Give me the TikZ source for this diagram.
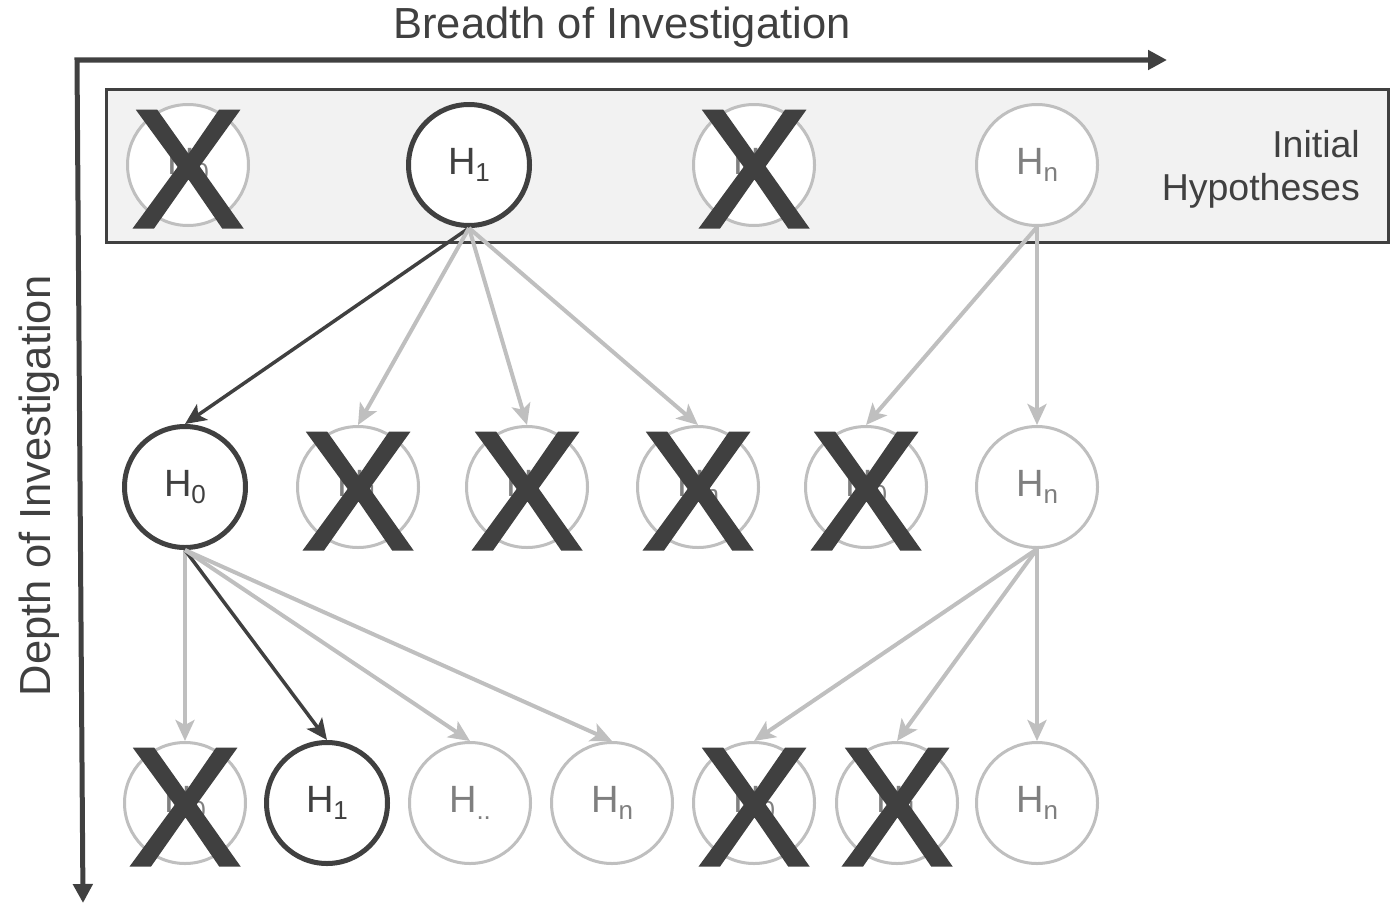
\documentclass[tikz,border=0pt]{standalone}
\usepackage{fontspec}
\setmainfont{Liberation Sans}
\newfontfamily\crossfont{Liberation Sans}[FakeBold=2]
\usetikzlibrary{arrows.meta}
\definecolor{ink}{HTML}{404040}
\definecolor{faint}{HTML}{BFBFBF}
\definecolor{faintText}{HTML}{7F7F7F}
\definecolor{panel}{HTML}{F2F2F2}
% hypothesis label: H with a lowered index
\newcommand{\hyp}[1]{H\raisebox{-7pt}{\fontsize{26}{26}\selectfont #1}}
\begin{document}
\begin{tikzpicture}[x=1pt,y=-1pt,
  hyp/.style={circle, minimum size=121pt, inner sep=0pt, draw=faint,
    line width=3pt, fill=white, text=faintText,
    font=\fontsize{38}{38}\selectfont},
  chosen/.style={hyp, draw=ink, line width=5pt, text=ink},
  cross/.style={inner sep=0pt, text=ink, text height=120pt, text depth=0pt,
    font=\crossfont\fontsize{168}{168}\selectfont},
  conn/.style={draw=faint, line width=4pt,
    -{Stealth[length=21pt,width=19pt,inset=5pt]}},
  strong/.style={conn, draw=ink, line width=3.5pt},
  axis/.style={draw=ink, line width=5pt,
    {Triangle[length=19pt,width=19pt]}-{Triangle[length=19pt,width=19pt]}},
  heading/.style={text=ink, inner sep=0pt, font=\fontsize{43.5}{43.5}\selectfont},
]
\useasboundingbox (0,0) rectangle (1396,907);

% axes
\coordinate (xend) at (1167,60);
\coordinate (corner) at (77,60);
\coordinate (yend) at (83,903);
\draw[axis] (xend) -- (corner) -- (yend);
\node[heading, anchor=base] (breadth) at (622,39) {Breadth of Investigation};
\node[heading, rotate=90, anchor=base] (depth) at (50,486) {Depth of Investigation};

% pool of initial hypotheses
\node[draw=ink, line width=3pt, fill=panel, anchor=north west,
  minimum width=1282pt, minimum height=153pt, inner sep=0pt] (pool) at (105,88) {};
\node[text=ink, align=right, anchor=north east, inner sep=0pt,
  font=\fontsize{37.5}{43}\selectfont] (poollabel) at (1360,130) {Initial\\Hypotheses};

% first level
\node[hyp] (t1) at (188,165) {\hyp{0}};
\node[chosen] (t2) at (469,165) {\hyp{1}};
\node[hyp] (t3) at (754,165) {\hyp{..}};
\node[hyp] (t4) at (1037,165) {\hyp{n}};

% second level
\node[chosen] (m1) at (185,487) {\hyp{0}};
\node[hyp] (m2) at (358,487) {\hyp{1}};
\node[hyp] (m3) at (527,487) {\hyp{..}};
\node[hyp] (m4) at (698,487) {\hyp{n}};
\node[hyp] (m5) at (866,487) {\hyp{0}};
\node[hyp] (m6) at (1037,487) {\hyp{n}};

% third level
\node[hyp] (b1) at (185,803) {\hyp{0}};
\node[chosen] (b2) at (327,803) {\hyp{1}};
\node[hyp] (b3) at (470,803) {\hyp{..}};
\node[hyp] (b4) at (612,803) {\hyp{n}};
\node[hyp] (b5) at (754,803) {\hyp{0}};
\node[hyp] (b6) at (897,803) {\hyp{1}};
\node[hyp] (b7) at (1037,803) {\hyp{n}};

% refinement arrows
\draw[strong] (t2.south) -- (m1.north);
\draw[conn] (t2.south) -- (m2.north);
\draw[conn] (t2.south) -- (m3.north);
\draw[conn] (t2.south) -- (m4.north);
\draw[conn] (t4.south) -- (m5.north);
\draw[conn] (t4.south) -- (m6.north);
\draw[conn] (m1.south) -- (b1.north);
\draw[strong] (m1.south) -- (b2.north);
\draw[conn] (m1.south) -- (b3.north);
\draw[conn] (m1.south) -- (b4.north);
\draw[conn] (m6.south) -- (b5.north);
\draw[conn] (m6.south) -- (b6.north);
\draw[conn] (m6.south) -- (b7.north);

% rejected hypotheses
\foreach \n in {t1,t3,m2,m3,m4,m5,b1,b5,b6}
  \node[cross] (x-\n) at ([yshift=-2pt]\n.center) {X};
\end{tikzpicture}
\end{document}
